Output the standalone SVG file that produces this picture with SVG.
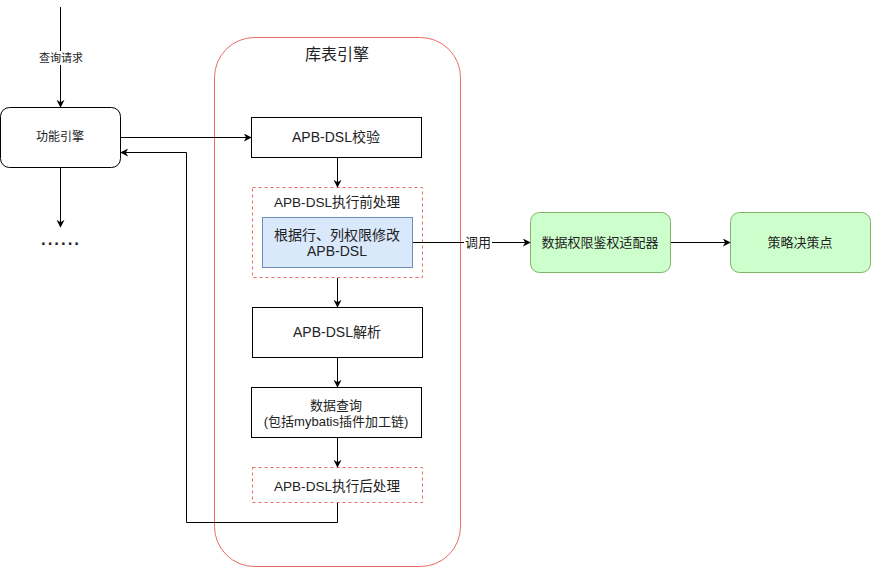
<svg xmlns="http://www.w3.org/2000/svg" width="871" height="568" viewBox="0 0 871 568">
<defs>
<marker id="arr" viewBox="0 0 10 10" refX="9" refY="5" markerWidth="8" markerHeight="8" markerUnits="userSpaceOnUse" orient="auto">
<path d="M0,0 L10,5 L0,10 L3,5 Z" fill="#000"/>
</marker>
<style>
text{font-family:"Liberation Sans","Noto Sans CJK SC",sans-serif;font-size:13px;fill:#222;text-anchor:middle;dominant-baseline:central}
.t14{font-size:14px}
.t135{font-size:13.6px}
.box{fill:#fff;stroke:#000;stroke-width:1}
.dash{fill:#fff;stroke:#ea6b66;stroke-width:1;stroke-dasharray:3,3}
.green{fill:#ccffcc;stroke:#82b366;stroke-width:1}
.line{fill:none;stroke:#000;stroke-width:1}
</style>
</defs>
<rect width="871" height="568" fill="#fff"/>
<g id="container">
<rect x="214.5" y="37.5" width="246" height="529" rx="40" fill="none" stroke="#ea6b66"/>
<text x="337" y="54" style="font-size:16px">库表引擎</text>
</g>
<g id="func">
<rect x="0.5" y="107.5" width="120" height="60" rx="9" class="box"/>
<text x="60" y="137" style="font-size:12px">功能引擎</text>
</g>
<g id="more"><text x="60" y="236" style="font-size:24px">......</text></g>
<g id="check">
<rect x="251.5" y="117.5" width="170" height="40" class="box"/>
<text x="336" y="137" class="t14">APB-DSL校验</text>
</g>
<g id="pre">
<rect x="252.5" y="187.5" width="170" height="90" class="dash"/>
<text x="337" y="202" class="t135">APB-DSL执行前处理</text>
</g>
<g id="modify">
<rect x="262.5" y="217.5" width="150" height="50" fill="#dae8fc" stroke="#6c8ebf"/>
<text x="337" y="235" class="t14">根据行、列权限修改</text>
<text x="337" y="251" class="t14">APB-DSL</text>
</g>
<g id="parse">
<rect x="252.5" y="307.5" width="170" height="50" class="box"/>
<text x="337" y="332" class="t14">APB-DSL解析</text>
</g>
<g id="query">
<rect x="251.5" y="387.5" width="170" height="50" class="box"/>
<text x="336" y="405">数据查询</text>
<text x="336" y="421">(包括mybatis插件加工链)</text>
</g>
<g id="post">
<rect x="252.5" y="467.5" width="170" height="35" class="dash"/>
<text x="337" y="486" class="t135">APB-DSL执行后处理</text>
</g>
<g id="adapter">
<rect x="530.5" y="212.5" width="140" height="60" rx="9" class="green"/>
<text x="600" y="242">数据权限鉴权适配器</text>
</g>
<g id="pdp">
<rect x="730.5" y="212.5" width="140" height="60" rx="9" class="green"/>
<text x="800" y="242">策略决策点</text>
</g>
<g id="connectors">
<line x1="60.5" y1="7" x2="60.5" y2="107" class="line" marker-end="url(#arr)"/>
<rect x="36" y="51" width="50" height="14" fill="#fff"/>
<text x="61" y="58" style="font-size:11px">查询请求</text>
<line x1="60.5" y1="168" x2="60.5" y2="227" class="line" marker-end="url(#arr)"/>
<line x1="121" y1="137.5" x2="251" y2="137.5" class="line" marker-end="url(#arr)"/>
<line x1="337.5" y1="158" x2="337.5" y2="187" class="line" marker-end="url(#arr)"/>
<line x1="337.5" y1="278" x2="337.5" y2="307" class="line" marker-end="url(#arr)"/>
<line x1="337.5" y1="358" x2="337.5" y2="387" class="line" marker-end="url(#arr)"/>
<line x1="337.5" y1="438" x2="337.5" y2="467" class="line" marker-end="url(#arr)"/>
<polyline points="337.5,503 337.5,522.5 186.5,522.5 186.5,152.5 121,152.5" class="line" marker-end="url(#arr)"/>
<line x1="413" y1="242.5" x2="530" y2="242.5" class="line" marker-end="url(#arr)"/>
<rect x="464" y="235" width="28" height="14" fill="#fff"/>
<text x="478" y="242">调用</text>
<line x1="671" y1="242.5" x2="730" y2="242.5" class="line" marker-end="url(#arr)"/>
</g>
</svg>
